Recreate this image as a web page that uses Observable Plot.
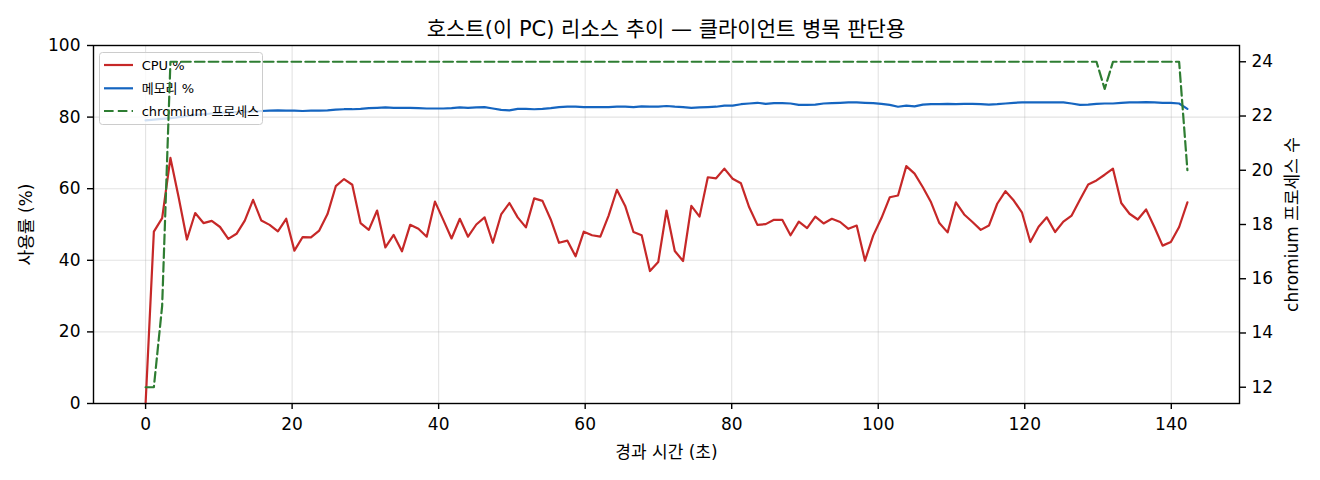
<!DOCTYPE html>
<html><head><meta charset="utf-8">
<script src="https://cdn.jsdelivr.net/npm/d3@7"></script>
<script src="https://cdn.jsdelivr.net/npm/@observablehq/plot@0.6"></script>
<style>
body{margin:0;background:#fff;font-family:"DejaVu Sans","Noto Sans CJK KR",sans-serif;}
#wrap{position:relative;width:1320px;height:480px;}
#title{position:absolute;left:0;top:17px;width:1320px;box-sizing:border-box;padding-left:12px;text-align:center;font-size:21px;line-height:24px;color:#000;white-space:nowrap;z-index:2;}
</style></head><body>
<div id="wrap">
<div id="chart"></div>
<div id="title">호스트(이 PC) 리소스 추이 — 클라이언트 병목 판단용</div>
</div>
<script>
const elapsed = [
0,1.13,2.26,3.39,4.51,5.64,6.77,7.90,9.03,10.16,
11.29,12.41,13.54,14.67,15.80,16.93,18.06,19.19,20.31,21.44,
22.57,23.70,24.83,25.96,27.09,28.21,29.34,30.47,31.60,32.73,
33.86,34.99,36.11,37.24,38.37,39.50,40.63,41.76,42.89,44.01,
45.14,46.27,47.40,48.53,49.66,50.79,51.91,53.04,54.17,55.30,
56.43,57.56,58.69,59.81,60.94,62.07,63.20,64.33,65.46,66.59,
67.71,68.84,69.97,71.10,72.23,73.36,74.49,75.61,76.74,77.87,
79.00,80.13,81.26,82.39,83.51,84.64,85.77,86.90,88.03,89.16,
90.29,91.41,92.54,93.67,94.80,95.93,97.06,98.19,99.31,100.44,
101.57,102.70,103.83,104.96,106.09,107.21,108.34,109.47,110.60,111.73,
112.86,113.99,115.11,116.24,117.37,118.50,119.63,120.76,121.89,123.01,
124.14,125.27,126.40,127.53,128.66,129.79,130.91,132.04,133.17,134.30,
135.43,136.56,137.69,138.81,139.94,141.07,142.20];

const cpuPct = [
0,48.0,51.8,68.6,57.6,45.8,53.2,50.4,51.0,49.3,
46.0,47.4,51.1,56.9,51.1,49.9,48.1,51.6,42.7,46.5,
46.4,48.3,52.9,60.7,62.7,61.1,50.4,48.5,53.9,43.6,
47.1,42.5,49.9,48.8,46.6,56.4,51.3,46.1,51.6,46.6,
50.0,52.0,44.9,52.8,56.0,52.0,49.2,57.3,56.6,51.4,
44.9,45.5,41.1,48.0,47.0,46.6,52.5,59.7,55.2,47.9,
47.0,37.0,39.5,53.9,42.6,39.8,55.2,52.2,63.2,62.9,
65.6,62.8,61.5,54.8,49.9,50.1,51.3,51.3,47.0,50.8,
49.0,52.2,50.3,51.6,50.7,48.8,49.7,39.9,46.9,51.8,
57.6,58.1,66.3,64.2,60.4,56.2,50.4,47.8,56.2,52.8,
50.7,48.5,49.7,55.8,59.3,56.7,53.3,45.1,49.4,52.0,
47.9,50.8,52.5,56.9,61.2,62.3,63.9,65.6,56.0,53.0,
51.4,54.2,49.3,44.1,45.1,49.3,56.2];

const memPct = [
79.1,79.3,79.5,79.7,80.0,80.3,80.6,80.8,81.0,81.2,
81.3,81.4,81.5,81.6,81.7,81.8,81.9,81.8,81.8,81.7,
81.8,81.8,81.9,82.1,82.2,82.2,82.3,82.5,82.6,82.7,
82.6,82.6,82.6,82.5,82.4,82.4,82.4,82.5,82.7,82.6,
82.7,82.8,82.4,82.0,81.9,82.3,82.3,82.2,82.3,82.5,
82.8,82.9,82.9,82.8,82.8,82.8,82.8,82.9,82.9,82.8,
83.0,82.9,82.9,83.1,82.9,82.8,82.6,82.7,82.8,82.9,
83.2,83.2,83.6,83.8,84.0,83.7,83.9,83.9,83.8,83.4,
83.4,83.5,83.8,83.9,84.0,84.1,84.1,84.0,83.9,83.7,
83.4,82.9,83.2,83.0,83.5,83.6,83.6,83.7,83.6,83.7,
83.7,83.6,83.5,83.6,83.8,84.0,84.1,84.1,84.1,84.1,
84.1,84.1,83.8,83.4,83.5,83.7,83.8,83.8,84.0,84.1,
84.1,84.2,84.1,84.0,84.0,83.8,82.3];

const chromiumProcs = [
12,12,15,24,24,24,24,24,24,24,
24,24,24,24,24,24,24,24,24,24,
24,24,24,24,24,24,24,24,24,24,
24,24,24,24,24,24,24,24,24,24,
24,24,24,24,24,24,24,24,24,24,
24,24,24,24,24,24,24,24,24,24,
24,24,24,24,24,24,24,24,24,24,
24,24,24,24,24,24,24,24,24,24,
24,24,24,24,24,24,24,24,24,24,
24,24,24,24,24,24,24,24,24,24,
24,24,24,24,24,24,24,24,24,24,
24,24,24,24,24,24,23,24,24,24,
24,24,24,24,24,24,20];

const xTicks = [0,20,40,60,80,100,120,140];
const yTicks = [0,20,40,60,80,100];
const procTicks = [12,14,16,18,20,22,24];
const seriesNames = ["CPU %","메모리 %","chromium 프로세스"];
const seriesColors = ["#c62828","#1565c0","#2e7d32"];
const procDomain = [11.4, 24.6];
const xDomain = [-7.11, 149.31];

const toLeft = v => (v - procDomain[0]) / (procDomain[1] - procDomain[0]) * 100;
const fromLeft = d => procDomain[0] + d / 100 * (procDomain[1] - procDomain[0]);

const rows = elapsed.map((t, i) => ({t, cpu: cpuPct[i], mem: memPct[i], procs: toLeft(chromiumProcs[i])}));
const DASH = "9.6 4.2";
const FONT = '"DejaVu Sans","Noto Sans CJK KR",sans-serif';

const chart = Plot.plot({
  width: 1320, height: 480,
  marginTop: 45, marginBottom: 77, marginLeft: 93, marginRight: 81,
  style: {fontFamily: FONT, fontSize: "17px", background: "#fff", color: "#000"},
  x: {domain: xDomain},
  y: {domain: [0, 100]},
  marks: [
    Plot.gridX(xTicks, {stroke: "#b0b0b0", strokeOpacity: 0.35, strokeWidth: 1.1}),
    Plot.gridY(yTicks, {stroke: "#b0b0b0", strokeOpacity: 0.35, strokeWidth: 1.1}),
    Plot.line(rows, {x: "t", y: "cpu", stroke: seriesColors[0], strokeWidth: 2.2}),
    Plot.line(rows, {x: "t", y: "mem", stroke: seriesColors[1], strokeWidth: 2.2}),
    Plot.line(rows, {x: "t", y: "procs", stroke: seriesColors[2], strokeWidth: 2.2, strokeDasharray: DASH}),
    Plot.frame({stroke: "#000", strokeWidth: 1.4}),
    Plot.axisX(xTicks, {tickSize: 6, tickPadding: 8, strokeWidth: 1.4, label: "경과 시간 (초)", labelAnchor: "center", labelArrow: "none", labelOffset: 54}),
    Plot.axisY(yTicks, {anchor: "left", tickSize: 6, tickPadding: 7, strokeWidth: 1.4, label: "사용률 (%)", labelAnchor: "center", labelArrow: "none", labelOffset: 74}),
    Plot.axisY(procTicks.map(toLeft), {anchor: "right", tickSize: 6, tickPadding: 6, strokeWidth: 1.4, tickFormat: d => String(Math.round(fromLeft(d))), label: "chromium 프로세스 수", labelAnchor: "center", labelArrow: "none", labelOffset: 58})
  ]
});
document.getElementById("chart").appendChild(chart);

// legend, placed beneath the secondary-axis line as in the original
const lineGroups = chart.querySelectorAll('g[aria-label="line"]');
const procGroup = lineGroups[lineGroups.length - 1];
const legNode = document.createElementNS("http://www.w3.org/2000/svg", "g");
procGroup.parentNode.insertBefore(legNode, procGroup);
const leg = d3.select(legNode).attr("text-anchor", "start");
leg.append("rect").attr("x", 99.5).attr("y", 52.5).attr("width", 163).attr("height", 72).attr("rx", 3)
  .attr("fill", "#fff").attr("fill-opacity", 0.8).attr("stroke", "#cccccc").attr("stroke-width", 1);
const legY = [65, 88.3, 111];
seriesNames.forEach((name, i) => {
  leg.append("line").attr("x1", 104).attr("x2", 133).attr("y1", legY[i]).attr("y2", legY[i])
    .attr("stroke", seriesColors[i]).attr("stroke-width", 2.2)
    .attr("stroke-dasharray", i === 2 ? DASH : "none");
  leg.append("text").attr("x", 141.7).attr("y", legY[i]).attr("dy", "0.35em")
    .attr("font-size", 13).attr("font-family", FONT).attr("fill", "#000").attr("text-anchor", "start").text(name);
});
</script>
</body></html>
